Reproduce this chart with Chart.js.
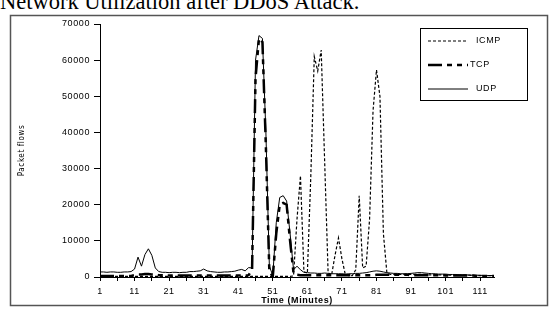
<!DOCTYPE html>
<html lang="en">
<head>
    <meta charset="UTF-8">
    <title>Network Utilization after DDoS Attack</title>
    <script src="https://cdn.jsdelivr.net/npm/chart.js"></script>
    <style>
        body { margin: 0; background: #fff; }
        #wrap { position: relative; width: 560px; height: 312px; overflow: hidden; }
        #title { position: absolute; left: 0; top: -11px; font-family: "Liberation Serif", serif; font-size: 22.5px; color: #000; white-space: nowrap; }
        canvas { position: absolute; left: 0; top: 0; }
    </style>
</head>
<body>
    <div id="wrap">
        <div id="title">Network Utilization after DDoS Attack.</div>
        <canvas id="myChart" width="560" height="312"></canvas>
    </div>

    <script>
        // minutes 1..115
        const minutes = [];
        for (let m = 1; m <= 115; m++) minutes.push(m);

        const xTickValues = [1, 6, 11, 16, 21, 26, 31, 36, 41, 46, 51, 56, 61, 66, 71, 76, 81, 86, 91, 96, 101, 106, 111];
        const yTickValues = [0, 10000, 20000, 30000, 40000, 50000, 60000, 70000];

        const icmp = [
            200, 200, 200, 200, 200, 200, 200, 200, 200, 200,
            200, 200, 200, 200, 200, 200, 200, 200, 200, 200,
            200, 200, 200, 200, 200, 200, 200, 200, 200, 200,
            200, 200, 200, 200, 200, 200, 200, 200, 200, 200,
            200, 200, 200, 200, 200, 200, 200, 200, 200, 200,
            200, 200, 200, 200, 200, 200, 300, 16000, 28000, 1500,
            1000, 28000, 61000, 57000, 62800, 32000, 1200, 500, 6000, 10800,
            5000, 600, 400, 400, 2000, 22500, 2500, 3000, 16000, 46000,
            57300, 50000, 12000, 1200, 700, 700, 700, 700, 700, 700,
            700, 700, 700, 700, 700, 600, 600, 600, 600, 600,
            600, 500, 500, 500, 500, 500, 500, 500, 400, 400,
            400, 400, 400, 400, 400
        ];

        const tcp = [
            300, 300, 300, 300, 300, 300, 300, 300, 300, 300,
            500, 700, 700, 800, 800, 700, 600, 500, 500, 400,
            400, 400, 400, 400, 400, 400, 400, 400, 400, 400,
            400, 400, 400, 400, 400, 400, 400, 400, 400, 400,
            400, 400, 400, 500, 2000, 55000, 66000, 65000, 36000, 1500,
            200, 12000, 20000, 20500, 20000, 10000, 1000, 600, 500, 500,
            500, 500, 500, 500, 500, 500, 500, 500, 500, 500,
            500, 500, 500, 500, 500, 500, 500, 500, 500, 500,
            600, 600, 600, 600, 600, 600, 600, 600, 600, 600,
            500, 500, 500, 500, 500, 500, 500, 500, 500, 500,
            400, 400, 400, 400, 400, 400, 400, 400, 400, 300,
            300, 300, 300, 300, 300
        ];

        const udp = [
            1400, 1400, 1300, 1400, 1400, 1300, 1300, 1400, 1400, 1500,
            2200, 5500, 3000, 6200, 7800, 6000, 2500, 1500, 1300, 1300,
            1200, 1300, 1300, 1200, 1300, 1300, 1500, 1500, 1600, 1700,
            2200, 1700, 1500, 1400, 1300, 1300, 1400, 1400, 1500, 1600,
            1900, 2100, 1700, 2600, 2500, 60000, 66800, 66000, 40000, 3000,
            400, 15000, 22000, 22500, 21000, 12000, 2000, 3000, 2000, 1300,
            1200, 1100, 1100, 1000, 1000, 1100, 1000, 900, 900, 900,
            900, 800, 900, 900, 1000, 1000, 1100, 1200, 1400, 1600,
            1700, 1600, 1400, 1200, 1100, 1000, 1000, 900, 900, 900,
            1000, 1100, 1200, 1200, 1100, 1000, 900, 900, 800, 800,
            800, 700, 700, 700, 600, 600, 600, 500, 500, 500,
            500, 400, 400, 400, 400
        ];

        const seriesNames = ['ICMP', 'TCP', 'UDP'];

        function points(values) {
            return minutes.map((m, i) => ({ x: m, y: values[i] }));
        }

        const tickFont = { family: 'Liberation Sans', size: 9 };

        // frame round the whole figure + boxed legend
        const framePlugin = {
            id: 'frame',
            beforeLayout(chart) { chart.ctx.letterSpacing = '0.6px'; },
            beforeDraw(chart) { chart.ctx.letterSpacing = '0.6px'; },
            afterDraw(chart) {
                const ctx = chart.ctx;
                ctx.save();
                ctx.strokeStyle = '#555';
                ctx.lineWidth = 1.5;
                ctx.strokeRect(10.5, 15.5, 537, 290);

                // legend
                const bx = 420.5, by = 28.5, bw = 107, bh = 72;
                ctx.fillStyle = '#fff';
                ctx.fillRect(bx, by, bw, bh);
                ctx.strokeStyle = '#000';
                ctx.lineWidth = 1;
                ctx.strokeRect(bx, by, bw, bh);
                ctx.font = '9px "Liberation Sans"';
                ctx.textBaseline = 'middle';
                ctx.fillStyle = '#000';
                chart.data.datasets.forEach((ds, i) => {
                    const y = 41 + i * 24;
                    ctx.beginPath();
                    ctx.strokeStyle = ds.borderColor;
                    ctx.lineWidth = ds.borderWidth;
                    ctx.setLineDash(ds.borderDash || []);
                    ctx.moveTo(428, y);
                    ctx.lineTo(468, y);
                    ctx.stroke();
                    ctx.setLineDash([]);
                    ctx.fillText(ds.label, i === 1 ? 470 : 476, y);
                });
                ctx.restore();
            }
        };

        const ctx = document.getElementById('myChart').getContext('2d');
        const myChart = new Chart(ctx, {
            type: 'line',
            data: {
                datasets: [
                    {
                        label: seriesNames[0],
                        data: points(icmp),
                        borderColor: '#000',
                        borderWidth: 1.2,
                        borderDash: [3, 2]
                    },
                    {
                        label: seriesNames[1],
                        data: points(tcp),
                        borderColor: '#000',
                        borderWidth: 2.5,
                        borderDash: [14, 5, 5, 5, 5, 5]
                    },
                    {
                        label: seriesNames[2],
                        data: points(udp),
                        borderColor: '#000',
                        borderWidth: 1
                    }
                ]
            },
            options: {
                responsive: false,
                animation: false,
                layout: { padding: { left: 10, top: 24, right: 66, bottom: 6 } },
                elements: { point: { radius: 0 }, line: { tension: 0 } },
                plugins: {
                    legend: { display: false },
                    tooltip: { enabled: false }
                },
                scales: {
                    x: {
                        type: 'linear',
                        min: 1,
                        max: 115,
                        afterBuildTicks(scale) {
                            scale.ticks = xTickValues.map(v => ({ value: v }));
                        },
                        afterFit(scale) { scale.height = 29; },
                        ticks: {
                            autoSkip: false,
                            maxRotation: 0,
                            padding: 5,
                            color: '#000',
                            font: tickFont,
                            callback: v => ((v - 1) % 10 === 0 ? String(v) : '')
                        },
                        grid: { drawOnChartArea: false, tickLength: 4, color: '#000' },
                        border: { color: '#000', width: 1 },
                        title: {
                            display: true,
                            text: 'Time (Minutes)',
                            color: '#000',
                            font: { family: 'Liberation Sans', size: 9, weight: 'bold' },
                            padding: { top: 0, bottom: 0 }
                        }
                    },
                    y: {
                        min: 0,
                        max: 70000,
                        afterBuildTicks(scale) {
                            scale.ticks = yTickValues.map(v => ({ value: v }));
                        },
                        afterFit(scale) { scale.width = 90; },
                        ticks: {
                            padding: 4,
                            color: '#000',
                            font: tickFont,
                            callback: v => String(v)
                        },
                        grid: { drawOnChartArea: false, tickLength: 6, color: '#000' },
                        border: { color: '#000', width: 1 },
                        title: {
                            display: true,
                            text: 'Packet flows',
                            color: '#000',
                            font: { family: '"DejaVu Sans Condensed", "Liberation Sans"', size: 8 },
                            padding: { top: 7, bottom: 0 }
                        }
                    }
                }
            },
            plugins: [framePlugin]
        });
    </script>
</body>
</html>
